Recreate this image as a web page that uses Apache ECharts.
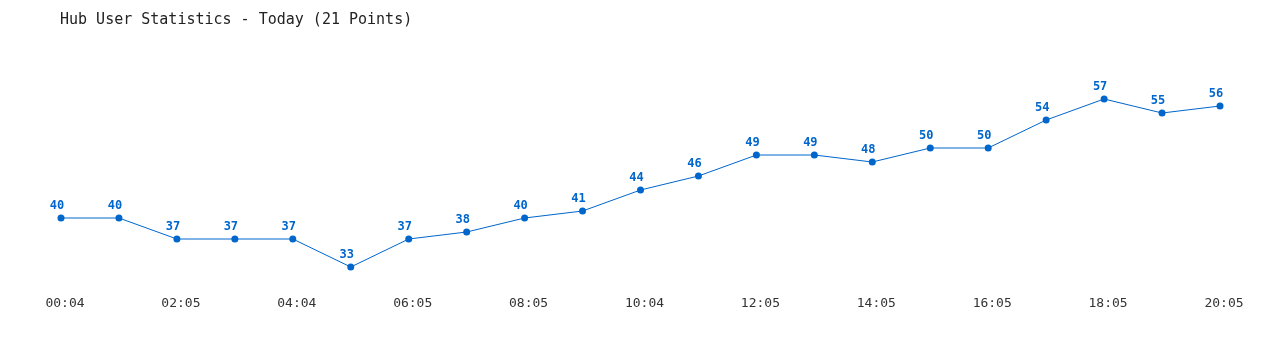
<!DOCTYPE html>
<html>
<head>
<meta charset="utf-8">
<script src="https://cdn.jsdelivr.net/npm/echarts@6/dist/echarts.min.js"></script>
<style>html,body{margin:0;padding:0;background:#fff}#c{width:1280px;height:350px}</style>
</head>
<body>
<div id="c"></div>
<script>
const titleText = "Hub User Statistics - Today (21 Points)";
const categories = ["00:04","01:05","02:05","03:05","04:04","05:05","06:05","07:05","08:05","09:05","10:04","11:05","12:05","13:05","14:05","15:05","16:05","17:05","18:05","19:05","20:05"];
const users = [40,40,37,37,37,33,37,38,40,41,44,46,49,49,48,50,50,54,57,55,56];

const chart = echarts.init(document.getElementById('c'));
chart.setOption({
  animation: false,
  backgroundColor: '#fff',
  title: {
    text: titleText, left: 55, top: 8,
    textStyle: { fontFamily: 'DejaVu Sans Mono', fontSize: 15, fontWeight: 'normal', color: '#222' }
  },
  grid: { left: 61, right: 60, top: 78, height: 210 },
  xAxis: {
    type: 'category', data: categories, boundaryGap: false,
    axisLine: { show: false }, axisTick: { show: false }, splitLine: { show: false },
    axisLabel: { interval: 1, margin: 9, padding: [0, 0, 0, 8], fontFamily: 'DejaVu Sans Mono', fontSize: 13, color: '#333' }
  },
  yAxis: {
    type: 'value', min: 30, max: 60, show: false, splitLine: { show: false }
  },
  series: [{
    type: 'line', data: users,
    symbol: 'circle', symbolSize: 7,
    lineStyle: { color: '#0066cc', width: 1 },
    itemStyle: { color: '#0066cc' },
    label: { show: true, position: 'top', distance: 3, offset: [-4, 0], color: '#0066cc', fontFamily: 'DejaVu Sans Mono', fontWeight: 'bold', fontSize: 12 }
  }]
});
</script>
</body>
</html>
